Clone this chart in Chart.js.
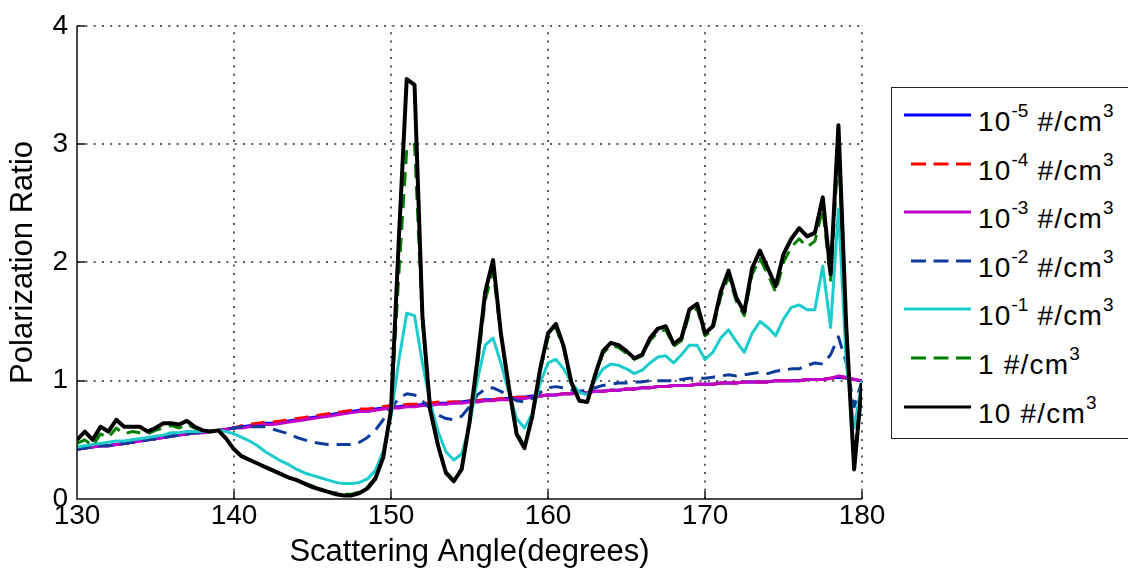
<!DOCTYPE html>
<html>
<head>
<meta charset="utf-8">
<title>Polarization Ratio vs Scattering Angle</title>
<script src="https://cdn.jsdelivr.net/npm/chart.js@4.4.1/dist/chart.umd.min.js"></script>
<style>
  html, body { margin: 0; padding: 0; background: #fff; overflow: hidden; }
  #wrap { position: relative; width: 1128px; height: 575px; overflow: hidden; }
  #legend {
    position: absolute; left: 891px; top: 87px; width: 262px; height: 350px;
    border: 1px solid #222; background: #fff;
    font-family: 'Liberation Sans', Arial, Helvetica, sans-serif;
  }
  .row { position: absolute; left: 0; width: 100%; height: 0; }
  .row canvas { position: absolute; left: 11px; top: -5px; }
  .row .lbl {
    position: absolute; left: 86px; top: -7px;
    font-size: 28px; line-height: 28px; letter-spacing: 1.2px;
    white-space: nowrap; color: #000;
  }
  .lbl sup { font-size: 19px; position: relative; top: -14px; vertical-align: baseline; letter-spacing: 0; }
</style>
</head>
<body>
<div id="wrap">
  <canvas id="chart" width="1128" height="575"></canvas>
  <div id="legend"></div>
</div>
<script>
// polarization ratio vs scattering angle, one curve per particle density

const ANGLES = [
  130, 130.5, 131, 131.5, 132, 132.5, 133, 133.5, 134, 134.5,
  135, 135.5, 136, 136.5, 137, 137.5, 138, 138.5, 139, 139.5,
  140, 140.5, 141, 141.5, 142, 142.5, 143, 143.5, 144, 144.5,
  145, 145.5, 146, 146.5, 147, 147.5, 148, 148.5, 149, 149.5,
  150, 150.5, 151, 151.5, 152, 152.5, 153, 153.5, 154, 154.5,
  155, 155.5, 156, 156.5, 157, 157.5, 158, 158.5, 159, 159.5,
  160, 160.5, 161, 161.5, 162, 162.5, 163, 163.5, 164, 164.5,
  165, 165.5, 166, 166.5, 167, 167.5, 168, 168.5, 169, 169.5,
  170, 170.5, 171, 171.5, 172, 172.5, 173, 173.5, 174, 174.5,
  175, 175.5, 176, 176.5, 177, 177.5, 178, 178.5, 179, 179.5,
  180,
];

const X_TICKS = [130, 140, 150, 160, 170, 180];
const Y_TICKS = [0, 1, 2, 3, 4];

// 1e-5 #/cm3
const RATIO_1E5 = [
  .42, .43, .44, .45, .45, .46, .47, .48, .49, .50,
  .51, .52, .53, .54, .55, .56, .56, .57, .58, .59,
  .60, .61, .62, .63, .64, .64, .65, .66, .67, .68,
  .69, .70, .71, .72, .73, .74, .75, .75, .76, .77,
  .78, .78, .79, .79, .80, .80, .81, .81, .82, .82,
  .83, .83, .84, .84, .85, .85, .86, .86, .87, .87,
  .88, .88, .89, .89, .90, .90, .91, .91, .92, .92,
  .93, .93, .94, .94, .95, .95, .96, .96, .96, .97,
  .97, .97, .98, .98, .98, .99, .99, .99, .99, 1.00,
  1.00, 1.00, 1.00, 1.01, 1.01, 1.01, 1.02, 1.03, 1.02, 1.01,
  1.00,
];

// 1e-4 #/cm3
const RATIO_1E4 = [
  .42, .43, .44, .45, .45, .46, .47, .48, .49, .50,
  .51, .52, .53, .54, .55, .56, .56, .57, .58, .59,
  .60, .62, .63, .64, .65, .65, .66, .67, .68, .69,
  .70, .71, .72, .73, .74, .75, .76, .76, .77, .78,
  .79, .79, .80, .80, .81, .81, .82, .82, .82, .82,
  .83, .83, .84, .84, .85, .85, .86, .86, .87, .87,
  .88, .88, .89, .89, .90, .90, .91, .91, .92, .92,
  .93, .93, .94, .94, .95, .95, .96, .96, .96, .97,
  .97, .97, .98, .98, .98, .99, .99, .99, .99, 1.00,
  1.00, 1.00, 1.00, 1.01, 1.01, 1.01, 1.02, 1.02, 1.03, 1.01,
  1.00,
];

// 1e-3 #/cm3
const RATIO_1E3 = [
  .42, .43, .44, .45, .45, .46, .47, .48, .49, .50,
  .51, .52, .53, .54, .55, .56, .56, .57, .58, .59,
  .60, .60, .61, .62, .63, .63, .64, .65, .66, .67,
  .68, .69, .70, .71, .72, .73, .74, .74, .75, .76,
  .77, .77, .78, .78, .79, .79, .80, .80, .81, .81,
  .82, .82, .83, .83, .84, .84, .85, .85, .86, .87,
  .88, .88, .89, .89, .90, .90, .91, .91, .92, .92,
  .93, .93, .94, .94, .95, .95, .96, .96, .96, .97,
  .97, .97, .98, .98, .98, .99, .99, .99, .99, 1.00,
  1.00, 1.00, 1.00, 1.01, 1.01, 1.01, 1.02, 1.04, 1.03, 1.01,
  1.00,
];

// 1e-2 #/cm3
const RATIO_1E2 = [
  .42, .43, .44, .45, .45, .46, .47, .48, .49, .50,
  .51, .52, .53, .54, .55, .56, .56, .57, .58, .59,
  .60, .61, .61, .61, .61, .59, .57, .55, .52, .50,
  .48, .47, .46, .46, .46, .46, .48, .52, .58, .67,
  .77, .85, .89, .88, .83, .76, .71, .68, .67, .70,
  .78, .88, .93, .94, .91, .87, .83, .82, .85, .90,
  .94, .95, .94, .92, .91, .92, .94, .96, .97, .98,
  .98, .99, .99, 1.00, 1.00, 1.00, 1.00, 1.01, 1.02, 1.02,
  1.02, 1.03, 1.04, 1.05, 1.04, 1.05, 1.06, 1.07, 1.06, 1.08,
  1.09, 1.10, 1.10, 1.13, 1.15, 1.14, 1.22, 1.37, 1.15, 0.78,
  1.00,
];

// 1e-1 #/cm3
const RATIO_1E1 = [
  .44, .45, .46, .47, .48, .49, .49, .50, .51, .52,
  .53, .54, .56, .56, .57, .57, .57, .57, .58, .57,
  .55, .52, .49, .45, .40, .36, .32, .29, .25, .22,
  .20, .18, .16, .14, .13, .13, .14, .17, .24, .40,
  .70, 1.17, 1.57, 1.55, 1.15, .81, .57, .40, .33, .38,
  .62, 1.00, 1.30, 1.36, 1.15, .90, .68, .60, .72, .98,
  1.15, 1.18, 1.10, .98, .90, .88, 1.00, 1.10, 1.14, 1.13,
  1.10, 1.06, 1.09, 1.15, 1.20, 1.21, 1.15, 1.22, 1.30, 1.30,
  1.18, 1.24, 1.36, 1.43, 1.33, 1.24, 1.40, 1.50, 1.45, 1.38,
  1.52, 1.62, 1.64, 1.60, 1.60, 1.97, 1.45, 2.45, 1.15, 0.60,
  1.00,
];

// 1 #/cm3
const RATIO_1 = [
  .47, .50, .45, .55, .52, .60, .55, .57, .56, .55,
  .58, .60, .62, .60, .63, .60, .58, .57, .58, .51,
  .42, .37, .33, .30, .27, .24, .21, .18, .16, .13,
  .11, .08, .06, .05, .04, .04, .06, .10, .18, .36,
  .74, 1.90, 2.95, 3.00, 1.50, .75, .45, .23, .16, .26,
  .64, 1.12, 1.68, 1.93, 1.38, .95, .56, .45, .70, 1.08,
  1.36, 1.45, 1.27, .97, .83, .82, 1.04, 1.23, 1.30, 1.28,
  1.23, 1.18, 1.21, 1.34, 1.41, 1.43, 1.29, 1.34, 1.56, 1.61,
  1.38, 1.43, 1.71, 1.88, 1.67, 1.55, 1.90, 2.03, 1.90, 1.75,
  2.00, 2.13, 2.20, 2.13, 2.18, 2.45, 1.85, 2.95, 1.42, 0.30,
  0.98,
];

// 10 #/cm3
const RATIO_10 = [
  .50, .57, .50, .61, .57, .67, .61, .61, .61, .57,
  .60, .64, .64, .63, .66, .61, .58, .57, .58, .51,
  .42, .36, .33, .30, .27, .24, .21, .18, .16, .13,
  .10, .08, .06, .04, .03, .03, .05, .09, .17, .35,
  .75, 2.20, 3.55, 3.50, 1.55, .75, .45, .22, .15, .25,
  .65, 1.17, 1.75, 2.02, 1.40, .95, .55, .43, .70, 1.10,
  1.40, 1.48, 1.29, .98, .83, .82, 1.05, 1.25, 1.32, 1.30,
  1.25, 1.19, 1.22, 1.36, 1.44, 1.46, 1.31, 1.36, 1.60, 1.65,
  1.40, 1.46, 1.75, 1.93, 1.70, 1.58, 1.95, 2.10, 1.95, 1.80,
  2.07, 2.20, 2.29, 2.22, 2.25, 2.55, 1.90, 3.16, 1.45, 0.25,
  0.98,
];

const SERIES_LABELS = [
  '10<sup>-5</sup> #/cm<sup>3</sup>',
  '10<sup>-4</sup> #/cm<sup>3</sup>',
  '10<sup>-3</sup> #/cm<sup>3</sup>',
  '10<sup>-2</sup> #/cm<sup>3</sup>',
  '10<sup>-1</sup> #/cm<sup>3</sup>',
  '1 #/cm<sup>3</sup>',
  '10 #/cm<sup>3</sup>',
];
const SERIES_VALUES = [RATIO_1E5, RATIO_1E4, RATIO_1E3, RATIO_1E2, RATIO_1E1, RATIO_1, RATIO_10];
const SERIES_COLORS = ['#0000ff', '#ff0000', '#c000c8', '#0d3b9c', '#1ccccc', '#008000', '#000000'];
const SERIES_DASHED = [false, true, false, true, false, true, false];

const FONT = "'Liberation Sans', Arial, Helvetica, sans-serif";
const DASH = [14, 8];

// matlab-style axes: dotted grid under the data, solid left/bottom axes with inward ticks
const matlabAxes = {
  id: 'matlabAxes',
  beforeDatasetsDraw(chart) {
    const { ctx, chartArea: a, scales: { x, y } } = chart;
    ctx.save();
    ctx.strokeStyle = '#222';
    ctx.lineWidth = 1.5;
    ctx.setLineDash([2, 6.3]);
    X_TICKS.slice(1).forEach((v) => {
      const px = Math.round(x.getPixelForValue(v));
      ctx.beginPath();
      ctx.moveTo(px, a.bottom);
      ctx.lineTo(px, a.top);
      ctx.stroke();
    });
    Y_TICKS.slice(1).forEach((v) => {
      const py = Math.round(y.getPixelForValue(v));
      ctx.beginPath();
      ctx.moveTo(a.left, py);
      ctx.lineTo(a.right, py);
      ctx.stroke();
    });
    ctx.restore();
  },
  afterDatasetsDraw(chart) {
    const { ctx, chartArea: a, scales: { x, y } } = chart;
    ctx.save();
    ctx.strokeStyle = '#111';
    ctx.lineWidth = 1.5;
    ctx.beginPath();
    ctx.moveTo(a.left, a.top);
    ctx.lineTo(a.left, a.bottom);
    ctx.lineTo(a.right, a.bottom);
    X_TICKS.forEach((v) => {
      const px = Math.round(x.getPixelForValue(v));
      ctx.moveTo(px, a.bottom);
      ctx.lineTo(px, a.bottom - 8);
    });
    Y_TICKS.forEach((v) => {
      const py = Math.round(y.getPixelForValue(v));
      ctx.moveTo(a.left, py);
      ctx.lineTo(a.left + 8, py);
    });
    ctx.stroke();
    ctx.restore();
  },
};

const datasets = SERIES_VALUES.map((vals, i) => ({
  label: SERIES_LABELS[i].replace(/<[^>]+>/g, ''),
  data: ANGLES.map((a, j) => ({ x: a, y: vals[j] })),
  borderColor: SERIES_COLORS[i],
  backgroundColor: SERIES_COLORS[i],
  borderWidth: i === 6 ? 4 : 3,
  borderDash: SERIES_DASHED[i] ? DASH : [],
  borderJoinStyle: 'round',
  pointRadius: 0,
  tension: 0,
  fill: false,
  // last series on top, like matlab
  order: SERIES_VALUES.length - 1 - i,
}));

new Chart(document.getElementById('chart'), {
  type: 'line',
  data: { datasets },
  plugins: [matlabAxes],
  options: {
    responsive: false,
    animation: false,
    devicePixelRatio: 1,
    events: [],
    layout: { padding: { top: 25, right: 266, bottom: 0, left: 0 } },
    plugins: { legend: { display: false }, tooltip: { enabled: false } },
    scales: {
      x: {
        type: 'linear',
        min: 130,
        max: 180,
        afterBuildTicks: (s) => { s.ticks = X_TICKS.map((v) => ({ value: v })); },
        afterFit: (s) => { s.height = 76; },
        grid: { display: false, drawTicks: false },
        border: { display: false },
        ticks: {
          color: '#000',
          padding: 0,
          maxRotation: 0,
          autoSkip: false,
          font: { family: FONT, size: 28 },
        },
        title: {
          display: true,
          text: 'Scattering Angle(degrees)',
          color: '#000',
          padding: { top: 0, bottom: 4 },
          font: { family: FONT, size: 31 },
        },
      },
      y: {
        min: 0,
        max: 4,
        afterBuildTicks: (s) => { s.ticks = Y_TICKS.map((v) => ({ value: v })); },
        afterFit: (s) => { s.width = 77; },
        grid: { display: false, drawTicks: false },
        border: { display: false },
        ticks: {
          color: '#000',
          padding: 9,
          autoSkip: false,
          font: { family: FONT, size: 28 },
        },
        title: {
          display: true,
          text: 'Polarization Ratio',
          color: '#000',
          padding: { top: 5, bottom: 0 },
          font: { family: FONT, size: 31 },
        },
      },
    },
  },
});

// html legend so the exponents can be real superscripts
const legend = document.getElementById('legend');
SERIES_LABELS.forEach((html, i) => {
  const row = document.createElement('div');
  row.className = 'row';
  row.style.top = (27 + i * 48.6) + 'px';
  const c = document.createElement('canvas');
  c.width = 70;
  c.height = 10;
  const g = c.getContext('2d');
  g.strokeStyle = SERIES_COLORS[i];
  g.lineWidth = 3;
  if (SERIES_DASHED[i]) g.setLineDash([15, 7.5]);
  g.beginPath();
  g.moveTo(SERIES_DASHED[i] ? 8 : 1, 5);
  g.lineTo(68, 5);
  g.stroke();
  row.appendChild(c);
  const lbl = document.createElement('span');
  lbl.className = 'lbl';
  lbl.innerHTML = html;
  row.appendChild(lbl);
  legend.appendChild(row);
});
</script>
</body>
</html>
